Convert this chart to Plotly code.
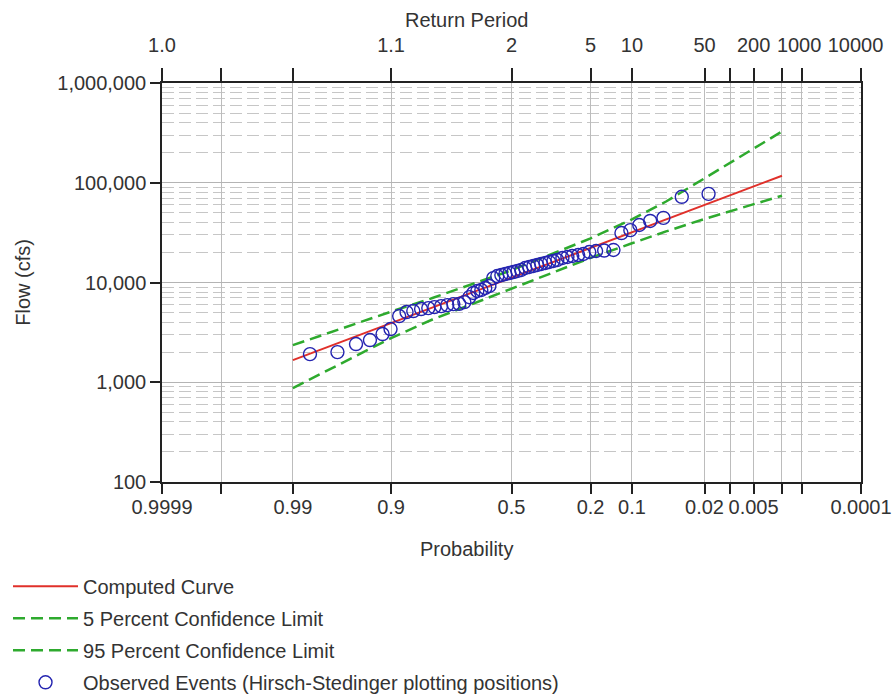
import plotly.graph_objects as go
from statistics import NormalDist

# ---------------- data ----------------
curve_prob = [0.99, 0.95, 0.9, 0.8, 0.5, 0.2, 0.1, 0.05, 0.02, 0.01, 0.005, 0.002]
computed_flow = [1667, 2910, 3920, 5610, 11170, 22230, 31860, 42850, 59850, 74780, 91800, 117500]
upper_5pct_flow = [2355, 3926, 5105, 6982, 13270, 27670, 42950, 64860, 111400, 159900, 222800, 326600]
lower_95pct_flow = [875, 1879, 2773, 4256, 8670, 17660, 24720, 32510, 43350, 51760, 60670, 74130]

obs_prob = [0.984, 0.968, 0.951, 0.934, 0.915, 0.901, 0.884, 0.868, 0.852, 0.832,
            0.812, 0.794, 0.773, 0.753, 0.732, 0.711, 0.692, 0.673, 0.658, 0.642,
            0.626, 0.610, 0.593, 0.577, 0.560, 0.543, 0.526, 0.509, 0.492, 0.475,
            0.459, 0.442, 0.425, 0.408, 0.392, 0.376, 0.359, 0.344, 0.328, 0.313,
            0.294, 0.276, 0.259, 0.239, 0.222, 0.204, 0.184, 0.162, 0.139, 0.121,
            0.103, 0.087, 0.070, 0.053, 0.035, 0.018]
obs_flow = [1915, 2005, 2414, 2648, 3041, 3413, 4608, 5053, 5171, 5415,
            5541, 5670, 5802, 5937, 6076, 6100, 6363, 7138, 7846, 8222,
            8413, 8812, 9227, 11050, 11600, 11880, 12160, 12440, 12730, 13030,
            13340, 13970, 14300, 14630, 14970, 15320, 15680, 16050, 16430, 16810,
            17610, 18020, 18440, 18870, 19310, 20230, 20700, 20900, 21190, 31300,
            33500, 37700, 41400, 44500, 72300, 77400]

prob_ticks = [0.9999, 0.999, 0.99, 0.9, 0.5, 0.2, 0.1, 0.02, 0.01, 0.005, 0.002, 0.001, 0.0001]
prob_labels = ["0.9999", "", "0.99", "0.9", "0.5", "0.2", "0.1", "0.02", "", "0.005", "", "", "0.0001"]
return_labels = ["1.0", "", "", "1.1", "2", "5", "10", "50", "", "200", "",
                 "1000\u00a0", "10000\u00a0\u00a0"]
flow_ticks = [100, 1000, 10000, 100000, 1000000]
flow_labels = ["100", "1,000", "10,000", "100,000", "1,000,000"]

# ---------------- normal-probability scale ----------------
nd = NormalDist()


def zpos(p):
    return nd.inv_cdf(1.0 - p)


xr = [zpos(prob_ticks[0]), zpos(prob_ticks[-1])]
tick_z = [zpos(p) for p in prob_ticks]
curve_z = [zpos(p) for p in curve_prob]
obs_z = [zpos(p) for p in obs_prob]

FONT = "Liberation Sans, Arial, sans-serif"
TXT = "#333333"
GRID = "#bcbcbc"
RED = "#e0302a"
GREEN = "#2eaa2e"
BLUE = "#2424b0"

fig = go.Figure()
fig.add_trace(go.Scatter(x=curve_z, y=computed_flow, mode="lines", name="Computed Curve",
                         line=dict(color=RED, width=2), legendgroup="a"))
fig.add_trace(go.Scatter(x=curve_z, y=upper_5pct_flow, mode="lines", name="5 Percent Confidence Limit",
                         line=dict(color=GREEN, width=2.5, dash="12px,6px"), legendgroup="b"))
fig.add_trace(go.Scatter(x=curve_z, y=lower_95pct_flow, mode="lines", name="95 Percent Confidence Limit",
                         line=dict(color=GREEN, width=2.5, dash="12px,6px"), legendgroup="c"))
fig.add_trace(go.Scatter(x=obs_z, y=obs_flow, mode="markers",
                         name="Observed Events (Hirsch-Stedinger plotting positions)",
                         marker=dict(symbol="circle-open", size=13, color=BLUE, line=dict(width=1.4)),
                         legendgroup="d"))

minor_vals = [m * 10 ** e for e in range(2, 6) for m in range(2, 10)]

fig.update_layout(
    width=894, height=698,
    margin=dict(l=162, r=33, t=83, b=216, pad=0, autoexpand=False),
    paper_bgcolor="white", plot_bgcolor="white",
    font=dict(family=FONT, size=20, color=TXT),
    showlegend=True,
    legend=dict(x=-0.2203, y=-0.2125, xanchor="left", yanchor="top",
                font=dict(size=20, color=TXT), bgcolor="rgba(0,0,0,0)",
                itemwidth=65, tracegroupgap=3, traceorder="grouped"),
    xaxis=dict(range=xr, tickmode="array", tickvals=tick_z, ticktext=prob_labels,
               showgrid=True, gridcolor=GRID, gridwidth=1, zeroline=False, automargin=False,
               showline=True, linecolor="#222222", linewidth=1.5, mirror=True, tickangle=0,
               ticks="outside", ticklen=10, tickcolor="#222222", tickwidth=1.5,
               ticklabelstandoff=-4),
    xaxis2=dict(range=xr, overlaying="x", side="top", tickmode="array", tickvals=tick_z,
                ticktext=return_labels, showgrid=False, zeroline=False, showline=False,
                automargin=False, tickangle=0, ticklabeloverflow="allow",
                ticks="outside", ticklen=14, tickcolor="#222222", tickwidth=1.5,
                ticklabelstandoff=8),
    yaxis=dict(type="log", range=[2, 6], tickmode="array", tickvals=flow_ticks, ticktext=flow_labels,
               showgrid=True, gridcolor="#b4b4b4", gridwidth=1, zeroline=False, automargin=False,
               showline=True, linecolor="#222222", linewidth=1.5, mirror=True,
               ticks="outside", ticklen=10, tickcolor="#222222", tickwidth=1.5,
               minor=dict(tickmode="array", tickvals=minor_vals, showgrid=True,
                          gridcolor="#c6c6c6", griddash="12px,5px", ticklen=0)),
    annotations=[
        dict(text="Return Period", xref="paper", yref="paper", x=0.435, y=1.157,
             xanchor="center", yanchor="middle", showarrow=False, font=dict(size=20, color=TXT)),
        dict(text="Probability", xref="paper", yref="paper", x=0.435, y=-0.169,
             xanchor="center", yanchor="middle", showarrow=False, font=dict(size=20, color=TXT)),
        dict(text="Flow (cfs)", xref="paper", yref="paper", x=-0.2, y=0.5, textangle=-90,
             xanchor="center", yanchor="middle", showarrow=False, font=dict(size=20, color=TXT)),
    ],
)

# invisible trace to activate the top axis
fig.add_trace(go.Scatter(x=xr, y=[100, 100], xaxis="x2", mode="lines",
                         line=dict(width=0), hoverinfo="skip", showlegend=False))

fig.write_html("out.html")
